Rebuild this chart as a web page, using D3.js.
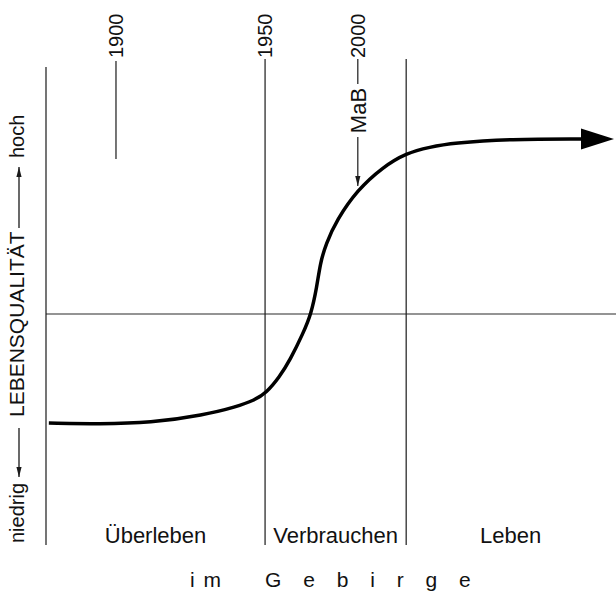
<!DOCTYPE html>
<html>
<head>
<meta charset="utf-8">
<script src="https://cdn.jsdelivr.net/npm/d3@7"></script>
<style>
  body { margin: 0; background: #fff; }
  svg { display: block; }
  text { font-family: "Liberation Sans", Arial, sans-serif; fill: #111; }
</style>
</head>
<body>
<svg id="chart" width="616" height="599"></svg>
<script>
// phases along the (unitless) time axis
const eraNames = ["Überleben", "Verbrauchen", "Leben"];
const eraEdges = [0, 38.5, 63.3, 100];

// year marks at the top
const yearLabels = ["1900", "1950", "2000"];
const yearPos = [12.3, 38.5, 54.8];

// "MaB" marker position
const mabPos = 54.8;

// quality of life curve (x in time units, y in quality units, 0 = middle line)
const curveX = [0.5, 9.5, 18.3, 27.8, 33.4, 36.7, 38.7, 41.0, 42.9, 45.2, 46.6, 47.6, 48.2, 49.2, 51.1, 54.7, 59.2, 63.3, 67.5, 71.4, 81.7, 94.2];
const curveY = [-47.4, -47.8, -47.4, -43.9, -40.4, -37.4, -34.3, -27.5, -20, -8.3, 0, 11.7, 22.2, 30.5, 40.9, 53.9, 63.9, 70, 72.6, 74.3, 76.1, 76.1];

const svg = d3.select("#chart");

const x = d3.scaleLinear().domain([0, 100]).range([46, 615]);
const y = d3.scaleLinear().domain([-100, 100]).range([544, 84]);

const ink = "#1a1a1a";

// arrow markers
const defs = svg.append("defs");
defs.append("marker")
    .attr("id", "bigArrow")
    .attr("markerUnits", "userSpaceOnUse")
    .attr("viewBox", "0 -11 34 22")
    .attr("markerWidth", 34)
    .attr("markerHeight", 22)
    .attr("refX", 1)
    .attr("refY", 0)
    .attr("orient", "auto")
    .append("path")
    .attr("d", "M0,-10.5L33,0L0,10.5Z")
    .attr("fill", "#000");

defs.append("marker")
    .attr("id", "smallArrow")
    .attr("markerUnits", "userSpaceOnUse")
    .attr("viewBox", "0 -4 10 8")
    .attr("markerWidth", 10)
    .attr("markerHeight", 8)
    .attr("refX", 10)
    .attr("refY", 0)
    .attr("orient", "auto")
    .append("path")
    .attr("d", "M0,-2.6L10,0L0,2.6Z")
    .attr("fill", ink);

// middle line
svg.append("line")
    .attr("x1", x(0)).attr("x2", 616)
    .attr("y1", y(0)).attr("y2", y(0))
    .attr("stroke", "#2a2a2a")
    .attr("stroke-width", 1.2);

// phase borders
svg.selectAll("line.edge")
    .data(eraEdges.slice(0, 3))
    .join("line")
    .classed("edge", true)
    .attr("x1", d => x(d)).attr("x2", d => x(d))
    .attr("y1", (d, i) => i === 0 ? 67 : 59)
    .attr("y2", 545)
    .attr("stroke", ink)
    .attr("stroke-width", 1.2);

// short 1900 line
svg.append("line")
    .attr("x1", x(yearPos[0])).attr("x2", x(yearPos[0]))
    .attr("y1", 61).attr("y2", 159)
    .attr("stroke", ink)
    .attr("stroke-width", 1.2);

// year labels
svg.selectAll("text.year")
    .data(yearLabels)
    .join("text")
    .classed("year", true)
    .attr("transform", (d, i) => `translate(${x(yearPos[i]) + 7},58) rotate(-90)`)
    .attr("font-size", 20)
    .text(d => d);

// MaB marker
const mx = x(mabPos);
svg.append("line")
    .attr("x1", mx).attr("x2", mx)
    .attr("y1", 59).attr("y2", 84)
    .attr("stroke", ink).attr("stroke-width", 1.2);
svg.append("text")
    .attr("transform", `translate(${mx + 8},110.5) rotate(-90)`)
    .attr("text-anchor", "middle")
    .attr("font-size", 22)
    .text("MaB");
svg.append("line")
    .attr("x1", mx).attr("x2", mx)
    .attr("y1", 137).attr("y2", 186)
    .attr("stroke", ink).attr("stroke-width", 1.2)
    .attr("marker-end", "url(#smallArrow)");

// curve
const pts = curveX.map((d, i) => [d, curveY[i]]);
svg.append("path")
    .datum(pts)
    .attr("d", d3.line().x(d => x(d[0])).y(d => y(d[1])).curve(d3.curveBasis))
    .attr("fill", "none")
    .attr("stroke", "#000")
    .attr("stroke-width", 3.5)
    .attr("stroke-linejoin", "round")
    .attr("marker-end", "url(#bigArrow)");

// phase names
svg.selectAll("text.era")
    .data(eraNames)
    .join("text")
    .classed("era", true)
    .attr("x", (d, i) => (x(eraEdges[i]) + x(eraEdges[i + 1])) / 2)
    .attr("y", 543)
    .attr("text-anchor", "middle")
    .attr("font-size", 22)
    .text(d => d);

// left axis title
const ax = 24;
svg.append("text")
    .attr("transform", `translate(${ax},543) rotate(-90)`)
    .attr("font-size", 20)
    .text("niedrig");
svg.append("line")
    .attr("x1", 19).attr("x2", 19)
    .attr("y1", 428).attr("y2", 477)
    .attr("stroke", ink).attr("stroke-width", 1.3)
    .attr("marker-end", "url(#smallArrow)");
svg.append("text")
    .attr("transform", `translate(${ax},417) rotate(-90)`)
    .attr("font-size", 21)
    .text("LEBENSQUALITÄT");
svg.append("line")
    .attr("x1", 19).attr("x2", 19)
    .attr("y1", 228).attr("y2", 167)
    .attr("stroke", ink).attr("stroke-width", 1.3)
    .attr("marker-end", "url(#smallArrow)");
svg.append("text")
    .attr("transform", `translate(${ax},158) rotate(-90)`)
    .attr("font-size", 20)
    .text("hoch");

// bottom caption
svg.append("text")
    .attr("x", 190).attr("y", 587)
    .attr("font-size", 21)
    .attr("letter-spacing", 1.5)
    .text("i m");
svg.append("text")
    .attr("x", 265).attr("y", 587)
    .attr("font-size", 21)
    .attr("letter-spacing", 8)
    .text("G e b i r g e");
</script>
</body>
</html>
